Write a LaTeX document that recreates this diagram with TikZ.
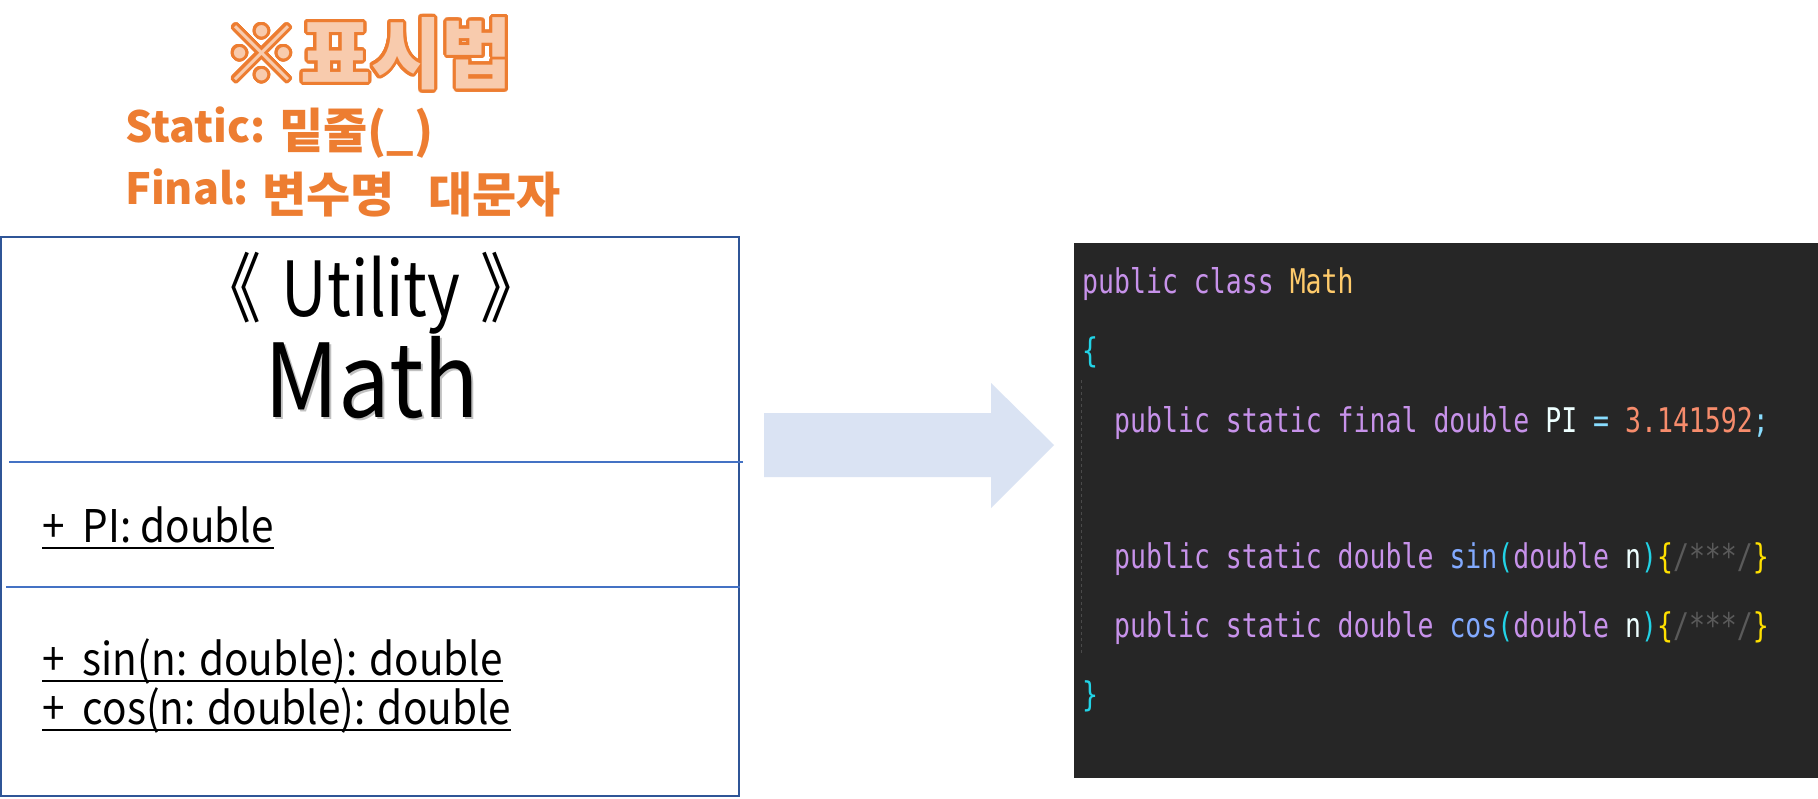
\documentclass[tikz,border=0pt]{standalone}
\usepackage{fontspec}
\usepackage{contour}
\setmainfont{Noto Sans CJK KR}
\newfontfamily\kr{Noto Sans CJK KR}
\newfontfamily\umlfont{Noto Sans CJK KR}[FakeStretch=0.9]
\newfontfamily\umlfontN{Noto Sans CJK KR}[FakeStretch=0.83]
\newfontfamily\codefont{DejaVu Sans Mono}[FakeStretch=0.78]
\definecolor{orangeA}{HTML}{ED7D31}
\definecolor{orangeL}{HTML}{F8CBAD}
\definecolor{boxblue}{HTML}{2F5597}
\definecolor{lineblue}{HTML}{4472C4}
\definecolor{arrowblue}{HTML}{DAE3F3}
\definecolor{codebg}{HTML}{262626}
\definecolor{kw}{HTML}{C792EA}
\definecolor{cls}{HTML}{FFCB6B}
\definecolor{brc}{HTML}{22D3E6}
\definecolor{bry}{HTML}{FFE000}
\definecolor{op}{HTML}{89DDFF}
\definecolor{num}{HTML}{F78C6C}
\definecolor{fgw}{HTML}{EEFFFF}
\definecolor{fn}{HTML}{82AAFF}
\definecolor{cm}{HTML}{5A5A5A}
\definecolor{guide}{HTML}{4A4A4A}
\contourlength{3pt}
\contournumber{32}
\newcommand{\K}[1]{\textcolor{kw}{#1}}
\tikzset{
  member/.style={anchor=base west, inner sep=0pt, font=\umlfont\fontsize{45}{52}\selectfont},
  codeline/.style={anchor=base west, inner sep=0pt, font=\codefont\fontsize{34}{40}\selectfont},
  sublatin/.style={anchor=base west, inner sep=0pt, text=orangeA, font=\kr\bfseries\fontsize{43}{52}\selectfont},
  subkor/.style={anchor=base west, inner sep=0pt, text=orangeA, font=\kr\bfseries\fontsize{48}{56}\selectfont},
  uline/.style={line width=2pt, black},
  divider/.style={line width=1.2pt, lineblue}
}
\begin{document}
\begin{tikzpicture}[x=1pt,y=-1pt]
\fill[white] (0,0) rectangle (1818,798);
\useasboundingbox (0,0) rectangle (1818,798);

% title
\node[inner sep=0pt, font=\kr\bfseries\fontsize{77}{88}\selectfont] (title) at (368,55) {\textcolor{orangeL}{\contour{orangeA}{※표시법}}};
\node[sublatin] (st) at (125,142) {Static:};
\node[subkor] (stk) at (279,148) {밑줄(\_)};
\node[sublatin] (fi) at (125,204) {Final:};
\node[subkor] (fik1) at (262,212) {변수명};
\node[subkor] (fik2) at (428,212) {대문자};

% UML class box
\draw[boxblue, line width=2pt] (1,237) rectangle (739,796);
\node[inner sep=0pt, anchor=base, font=\umlfontN\fontsize{76}{86}\selectfont] (stereo) at (371,316) {《\hspace{20pt}Utility\hspace{20pt}》};
\node[inner sep=0pt, anchor=base, text=black!40, opacity=0.6, font=\umlfont\fontsize{102}{116}\selectfont] (mathshadow) at (374,419) {Math};
\node[inner sep=0pt, anchor=base, font=\umlfont\fontsize{102}{116}\selectfont] (mathname) at (372,417) {Math};
\draw[divider] (9,462) -- (743,462);
\node[member] (m1) at (42,542) {+ \ PI: double};
\draw[uline] ([yshift=-6pt]m1.base west) -- ([yshift=-6pt]m1.base east);
\draw[divider] (6,587) -- (740,587);
\node[member] (m2) at (42,675) {+ \ sin(n: double): double};
\draw[uline] ([yshift=-6pt]m2.base west) -- ([yshift=-6pt]m2.base east);
\node[member] (m3) at (42,724) {+ \ cos(n: double): double};
\draw[uline] ([yshift=-6pt]m3.base west) -- ([yshift=-6pt]m3.base east);

% big arrow
\fill[arrowblue] (764,413) -- (991,413) -- (991,383) -- (1054,445) -- (991,508) -- (991,477) -- (764,477) -- cycle;

% code panel
\fill[codebg] (1074,243) rectangle (1818,778);
\draw[guide, line width=1pt, dash pattern=on 3pt off 3pt] (1081,380) -- (1081,653);
\node[codeline] (c1) at (1082,293) {\K{public class} \textcolor{cls}{Math}};
\node[codeline] (c2) at (1082,362) {\textcolor{brc}{\{}};
\node[codeline] (c3) at (1114,432) {\K{public static final double} \textcolor{fgw}{PI} \textcolor{op}{=} \textcolor{num}{3.141592}\textcolor{op}{;}};
\node[codeline] (c4) at (1114,568) {\K{public static double} \textcolor{fn}{sin}\textcolor{brc}{(}\K{double} \textcolor{fgw}{n}\textcolor{brc}{)}\textcolor{bry}{\{}\textcolor{cm}{/***/}\textcolor{bry}{\}}};
\node[codeline] (c5) at (1114,637) {\K{public static double} \textcolor{fn}{cos}\textcolor{brc}{(}\K{double} \textcolor{fgw}{n}\textcolor{brc}{)}\textcolor{bry}{\{}\textcolor{cm}{/***/}\textcolor{bry}{\}}};
\node[codeline] (c6) at (1082,706) {\textcolor{brc}{\}}};
\end{tikzpicture}
\end{document}
